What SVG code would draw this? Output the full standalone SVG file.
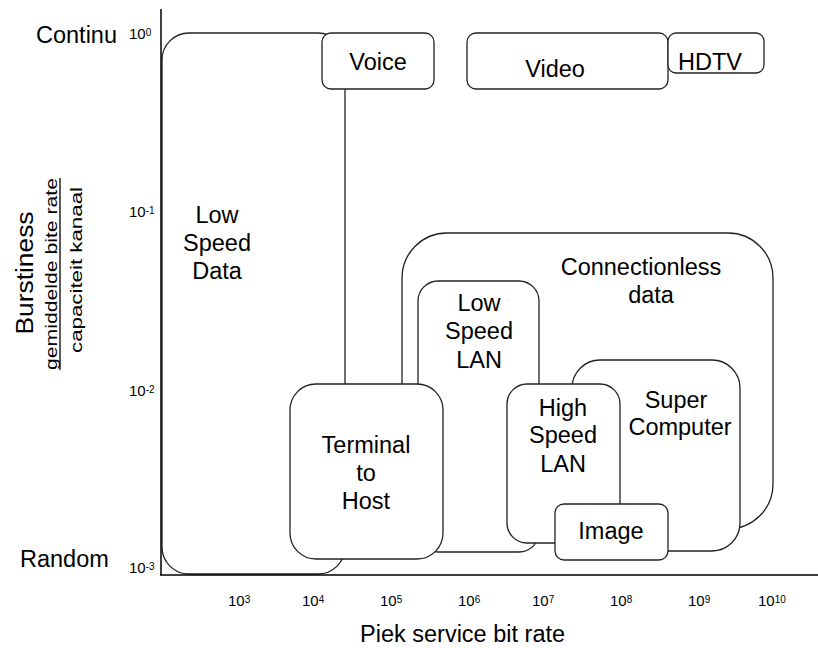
<svg xmlns="http://www.w3.org/2000/svg" width="818" height="648" viewBox="0 0 818 648">
<style>
.box{fill:#fff;stroke:#222;stroke-width:1.3}
.lbl{font-family:"Liberation Sans",Arial,sans-serif;font-size:23.5px;fill:#000;text-anchor:middle}
.ax{font-family:"Liberation Sans",Arial,sans-serif;font-size:23.5px;fill:#000}
.tick{font-family:"Liberation Sans",Arial,sans-serif;font-size:15px;fill:#000}
.sup{font-size:10px}
.axis{stroke:#000;stroke-width:1.5;fill:none}
</style>
<rect width="818" height="648" fill="#fff"/>
<g id="low-speed-data">
<rect class="box" x="162" y="33" width="183" height="541" rx="27"/>
<text class="lbl" x="217" y="223">Low</text>
<text class="lbl" x="217" y="251">Speed</text>
<text class="lbl" x="217" y="279">Data</text>
</g>
<g id="voice">
<rect class="box" x="322" y="33" width="112" height="56" rx="9"/>
<text class="lbl" x="378" y="70">Voice</text>
</g>
<g id="video">
<rect class="box" x="467" y="33" width="201" height="56" rx="9"/>
<text class="lbl" x="555" y="77">Video</text>
</g>
<g id="hdtv">
<rect class="box" x="668" y="33" width="96" height="40" rx="8"/>
<text class="lbl" x="710" y="70">HDTV</text>
</g>
<g id="connectionless-data">
<rect class="box" x="402" y="233" width="371" height="296" rx="45"/>
<text class="lbl" x="641" y="275">Connectionless</text>
<text class="lbl" x="651" y="303">data</text>
</g>
<g id="low-speed-lan">
<rect class="box" x="418" y="281" width="121" height="271" rx="20"/>
<text class="lbl" x="479" y="311">Low</text>
<text class="lbl" x="479" y="339">Speed</text>
<text class="lbl" x="479" y="368">LAN</text>
</g>
<g id="super-computer">
<rect class="box" x="572" y="360" width="168" height="191" rx="28"/>
<text class="lbl" x="676" y="408">Super</text>
<text class="lbl" x="680" y="435">Computer</text>
</g>
<g id="high-speed-lan">
<rect class="box" x="507" y="384" width="113" height="159" rx="20"/>
<text class="lbl" x="563" y="416">High</text>
<text class="lbl" x="563" y="443">Speed</text>
<text class="lbl" x="563" y="472">LAN</text>
</g>
<g id="image">
<rect class="box" x="555" y="504" width="113" height="56" rx="9"/>
<text class="lbl" x="611" y="539">Image</text>
</g>
<g id="terminal-to-host">
<rect class="box" x="290" y="384" width="153" height="175" rx="26"/>
<text class="lbl" x="366" y="453">Terminal</text>
<text class="lbl" x="366" y="481">to</text>
<text class="lbl" x="366" y="509">Host</text>
</g>
<g id="connectors">
<line class="axis" x1="161" y1="9" x2="161" y2="575"/>
<line class="axis" x1="160" y1="575" x2="818" y2="575"/>
</g>
<g id="axis-labels">
<text class="ax" x="36" y="43">Continu</text>
<text class="ax" x="20" y="567">Random</text>
<text class="ax" x="360" y="642">Piek service bit rate</text>
<text class="ax" transform="translate(33,273) rotate(-90)" text-anchor="middle" font-size="28" textLength="123" lengthAdjust="spacingAndGlyphs">Burstiness</text>
<text class="ax" transform="translate(57,274) rotate(-90)" text-anchor="middle" style="font-size:17px" textLength="192" lengthAdjust="spacingAndGlyphs">gemiddelde bite rate</text>
<line x1="60" y1="178" x2="60" y2="370" stroke="#000" stroke-width="1.3"/>
<text class="ax" transform="translate(82,270) rotate(-90)" text-anchor="middle" style="font-size:17px" textLength="166" lengthAdjust="spacingAndGlyphs">capaciteit kanaal</text>
<text class="tick" x="129" y="39">10<tspan class="sup" dy="-3">0</tspan></text>
<text class="tick" x="129" y="217">10<tspan class="sup" dy="-3">-1</tspan></text>
<text class="tick" x="129" y="396">10<tspan class="sup" dy="-3">-2</tspan></text>
<text class="tick" x="129" y="573">10<tspan class="sup" dy="-3">-3</tspan></text>
<text class="tick" x="228" y="606">10<tspan class="sup" dy="-3.5">3</tspan></text>
<text class="tick" x="302" y="606">10<tspan class="sup" dy="-3.5">4</tspan></text>
<text class="tick" x="380" y="606">10<tspan class="sup" dy="-3.5">5</tspan></text>
<text class="tick" x="458" y="606">10<tspan class="sup" dy="-3.5">6</tspan></text>
<text class="tick" x="532" y="606">10<tspan class="sup" dy="-3.5">7</tspan></text>
<text class="tick" x="610" y="606">10<tspan class="sup" dy="-3.5">8</tspan></text>
<text class="tick" x="688" y="606">10<tspan class="sup" dy="-3.5">9</tspan></text>
<text class="tick" x="758" y="606">10<tspan class="sup" dy="-3.5">10</tspan></text>
</g>
</svg>
